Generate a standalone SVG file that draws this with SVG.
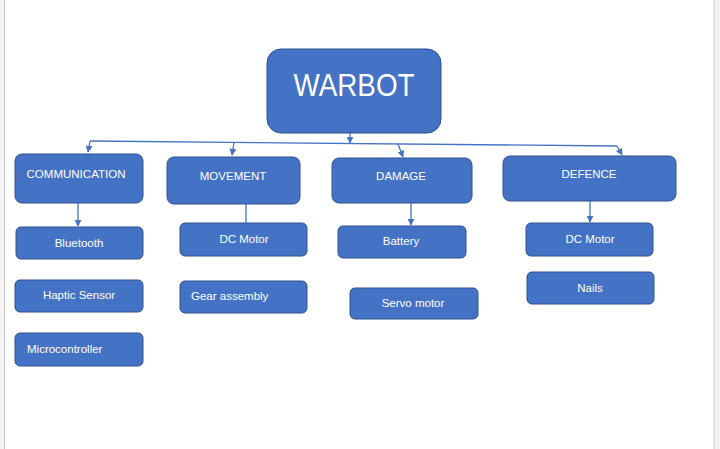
<svg xmlns="http://www.w3.org/2000/svg" width="720" height="449" viewBox="0 0 720 449">
<defs>
<marker id="arr" viewBox="0 0 10 10" refX="9" refY="5" markerWidth="7" markerHeight="7" orient="auto" markerUnits="userSpaceOnUse">
<path d="M0,0 L10,5 L0,10 z" fill="#4472c4"/>
</marker>
<style>
.box{fill:#4472c4;stroke:#2f528f;stroke-width:1}
.t{fill:#ffffff;font-family:"Liberation Sans","Open Sans",Arial,sans-serif;font-size:11.5px;text-anchor:middle}
.tl{fill:#ffffff;font-family:"Liberation Sans","Open Sans",Arial,sans-serif;font-size:11.5px;text-anchor:start}
.c{fill:none;stroke:#4472c4;stroke-width:1.3}
</style>
</defs>
<rect x="0" y="0" width="720" height="449" fill="#ffffff"/>
<rect x="0" y="0" width="4.5" height="449" fill="#f4f4f4"/>
<line x1="4.5" y1="0" x2="4.5" y2="449" stroke="#c8c8c8" stroke-width="1"/>
<rect x="714" y="0" width="6" height="449" fill="#f4f4f4"/>
<line x1="714" y1="0" x2="714" y2="449" stroke="#c8c8c8" stroke-width="1"/>

<g id="connectors">
<path class="c" d="M90,141 L617,146"/>
<path class="c" d="M350,133 L350,143" marker-end="url(#arr)"/>
<path class="c" d="M90,141 L88,152" marker-end="url(#arr)"/>
<path class="c" d="M234,142.5 L232,155" marker-end="url(#arr)"/>
<path class="c" d="M398,144 L403,157" marker-end="url(#arr)"/>
<path class="c" d="M617,146 L622,155" marker-end="url(#arr)"/>
<path class="c" d="M78,203 L78,226" marker-end="url(#arr)"/>
<path class="c" d="M246,204 L246,223"/>
<path class="c" d="M411,203 L411,225" marker-end="url(#arr)"/>
<path class="c" d="M590,201 L590,222" marker-end="url(#arr)"/>
</g>

<g id="warbot">
<rect class="box" x="267" y="49" width="174" height="84" rx="14"/>
<text x="354" y="96" fill="#ffffff" font-family="Liberation Sans, Open Sans, Arial, sans-serif" font-size="31" text-anchor="middle" textLength="121" lengthAdjust="spacingAndGlyphs">WARBOT</text>
</g>
<g id="communication">
<rect class="box" x="15" y="154" width="128" height="49" rx="7"/>
<text class="t" x="76" y="178" textLength="99" lengthAdjust="spacingAndGlyphs">COMMUNICATION</text>
</g>
<g id="movement">
<rect class="box" x="167" y="157" width="133" height="47" rx="7"/>
<text class="t" x="233" y="180">MOVEMENT</text>
</g>
<g id="damage">
<rect class="box" x="332" y="158" width="140" height="45" rx="7"/>
<text class="t" x="401" y="180">DAMAGE</text>
</g>
<g id="defence">
<rect class="box" x="503" y="156" width="173" height="45" rx="7"/>
<text class="t" x="589" y="178">DEFENCE</text>
</g>
<g id="bluetooth">
<rect class="box" x="16" y="227" width="127" height="32" rx="5"/>
<text class="t" x="79" y="247">Bluetooth</text>
</g>
<g id="haptic-sensor">
<rect class="box" x="15" y="280" width="128" height="32" rx="5"/>
<text class="t" x="79" y="299">Haptic Sensor</text>
</g>
<g id="microcontroller">
<rect class="box" x="15" y="333" width="128" height="33" rx="5"/>
<text class="tl" x="27" y="353">Microcontroller</text>
</g>
<g id="dc-motor-movement">
<rect class="box" x="180" y="223" width="127" height="33" rx="5"/>
<text class="t" x="244" y="243">DC Motor</text>
</g>
<g id="gear-assembly">
<rect class="box" x="180" y="281" width="127" height="32" rx="5"/>
<text class="tl" x="191" y="300">Gear assembly</text>
</g>
<g id="battery">
<rect class="box" x="338" y="226" width="128" height="32" rx="5"/>
<text class="t" x="401" y="245">Battery</text>
</g>
<g id="servo-motor">
<rect class="box" x="350" y="288" width="128" height="31" rx="5"/>
<text class="t" x="413" y="307">Servo motor</text>
</g>
<g id="dc-motor-defence">
<rect class="box" x="526" y="223" width="127" height="33" rx="5"/>
<text class="t" x="590" y="243">DC Motor</text>
</g>
<g id="nails">
<rect class="box" x="527" y="272" width="127" height="32" rx="5"/>
<text class="t" x="590" y="292">Nails</text>
</g>
</svg>
